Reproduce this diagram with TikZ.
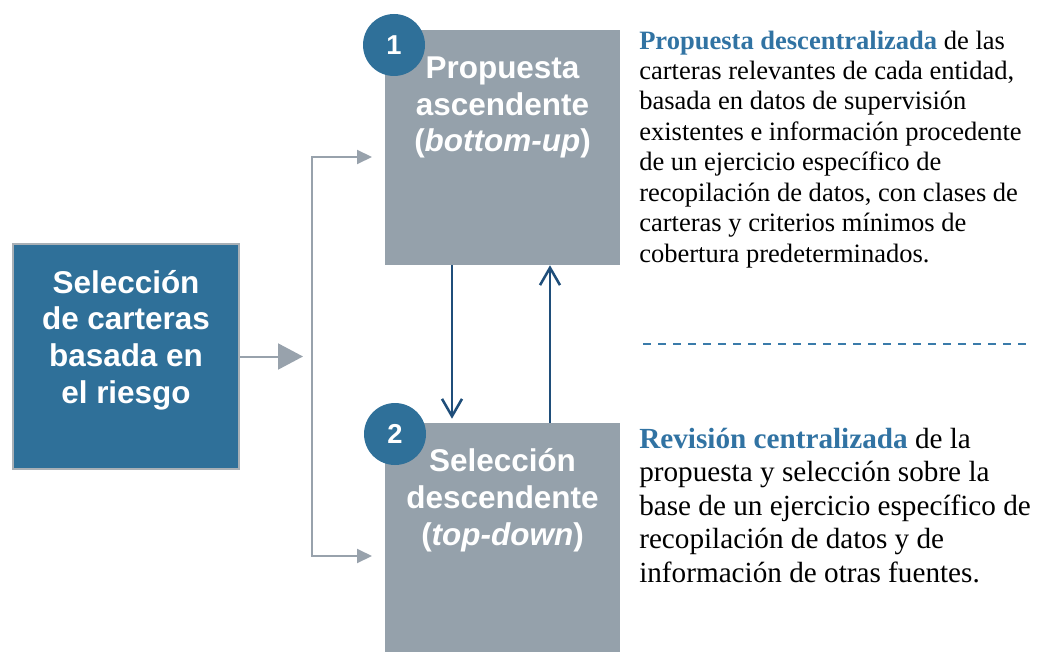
\documentclass[tikz,border=0pt]{standalone}
\usepackage{fontspec}
\setmainfont{Liberation Serif}
\newfontfamily\arialf{Liberation Sans}
\usetikzlibrary{arrows.meta,calc}
\definecolor{boxblue}{HTML}{2F7099}
\definecolor{boxgray}{HTML}{95A1AB}
\definecolor{bordergray}{HTML}{A9B0B6}
\definecolor{linegray}{HTML}{98A2AC}
\definecolor{arrowblue}{HTML}{1F4E7A}
\definecolor{headblue}{HTML}{3173A3}
\definecolor{dashblue}{HTML}{3A7BAA}
\begin{document}
\begin{tikzpicture}[x=0.75pt,y=-0.75pt,
  leftbox/.style={rectangle, fill=boxblue, draw=bordergray, line width=1.5pt, inner sep=0pt,
    minimum width=169.5pt, minimum height=168.75pt},
  graybox/.style={rectangle, fill=boxgray, inner sep=0pt, minimum width=176.25pt},
  boxtxt/.style={font=\arialf\bfseries\fontsize{23.6}{27.4}\selectfont, text=white, align=center, inner sep=0pt},
  numcirc/.style={circle, fill=boxblue, minimum size=46.5pt, inner sep=0pt, text=white,
    font=\arialf\bfseries\fontsize{20.5}{20.5}\selectfont},
  descA/.style={font=\fontsize{19.9}{22.8}\selectfont, align=left, inner sep=0pt},
  descB/.style={font=\fontsize{21.9}{25.1}\selectfont, align=left, inner sep=0pt},
  grayline/.style={draw=linegray, line width=1.5pt},
  bluearrow/.style={draw=arrowblue, line width=1.9pt, -{Straight Barb[length=13pt,width=15pt]}}
]
\useasboundingbox (0,0) rectangle (1037,652);

% boxes
\node[leftbox] (left) at (126,356.5) {};
\node[graybox, minimum height=176.25pt] (top) at (502.5,147.5) {};
\node[graybox, minimum height=171.75pt] (bot) at (502.5,537.5) {};

% box texts (anchor base = baseline of the last line)
\node[boxtxt, anchor=base] (lefttxt) at (126,403) {Selección\\de carteras\\basada en\\el riesgo};
\node[boxtxt, anchor=base] (toptxt) at (502.5,152) {Propuesta\\ascendente\\(\textit{bottom-up})};
\node[boxtxt, anchor=base] (bottxt) at (502.5,545) {Selección\\descendente\\(\textit{top-down})};

% number circles
\node[numcirc] (c1) at (394,45) {1};
\node[numcirc] (c2) at (395,434) {2};

% gray connectors
\coordinate (jt) at (303,356.5);
\coordinate (j) at (312,356.5);
\coordinate (a1) at (372,157);
\coordinate (a2) at (372,556);
\draw[grayline, -{Triangle[length=18.75pt,width=19.5pt]}] (left.east) -- (jt);
\draw[grayline, -{Triangle[length=11.25pt,width=10.5pt]}] (j) |- (a1);
\draw[grayline, -{Triangle[length=11.25pt,width=10.5pt]}] (j) |- (a2);

% blue arrows
\draw[bluearrow, shorten >=3pt] ($(top.south)+(-50.5,0)$) -- ($(bot.north)+(-50.5,0)$);
\draw[bluearrow] ($(bot.north)+(47.5,0)$) -- ($(top.south)+(47.5,0)$);

% descriptions (anchor base west = baseline of the last line)
\node[descA, anchor=base west] (d1) at (639,262) {\textcolor{headblue}{\textbf{Propuesta descentralizada}} de las\\
carteras relevantes de cada entidad,\\
basada en datos de supervisión\\
existentes e información procedente\\
de un ejercicio específico de\\
recopilación de datos, con clases de\\
carteras y criterios mínimos de\\
cobertura predeterminados.};
\node[descB, anchor=base west] (d2) at (639,582) {\textcolor{headblue}{\textbf{Revisión centralizada}} de la\\
propuesta y selección sobre la\\
base de un ejercicio específico de\\
recopilación de datos y de\\
información de otras fuentes.};

% dashed separator
\draw[draw=dashblue, line width=1.1pt, dash pattern=on 6pt off 5.25pt] (643,344) -- (1027,344);
\end{tikzpicture}
\end{document}
